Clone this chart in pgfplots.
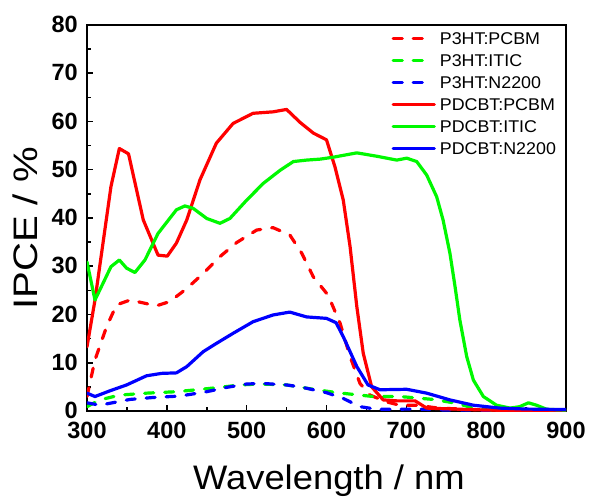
\documentclass[border=0pt]{standalone}
\usepackage{pgfplots}
\pgfplotsset{compat=1.18}
\usepackage{fontspec}
\setmainfont{Liberation Sans}
\newfontfamily\ylabfont[FakeStretch=1.18]{Liberation Sans}
\newfontfamily\xlabfont[FakeStretch=1.07]{Liberation Sans}
\newfontfamily\legfont[FakeStretch=1.05]{Liberation Sans}
\definecolor{cR}{RGB}{255,0,0}
\definecolor{cG}{RGB}{0,248,0}
\definecolor{cB}{RGB}{0,0,255}
\pgfplotsset{
  dashleg/.style={dash pattern=on 9pt off 11pt, legend image code/.code={\draw[##1] (0pt,0pt) -- (31pt,0pt);}},
  solidleg/.style={legend image code/.code={\draw[##1] (0pt,0pt) -- (41pt,0pt);}},
}
\begin{document}
\begin{tikzpicture}
\begin{axis}[
  name=ax,
  scale only axis, width=479pt, height=386pt,
  xmin=300, xmax=900, ymin=0, ymax=80,
  xtick={300,400,...,900}, ytick={0,10,...,80},
  minor x tick num=1, minor y tick num=1,
  tick pos=left, tick align=inside,
  major tick length=6pt, minor tick length=4pt,
  axis line style={line width=1.8pt},
  every tick/.style={black, line width=1.5pt},
  ticklabel style={font=\bfseries\fontsize{23.5}{23.5}\selectfont},
  /pgf/number format/assume math mode=true,
  xticklabel style={anchor=base, inner sep=0pt, yshift=-27.5pt},
  yticklabel style={anchor=east, inner sep=0pt, xshift=-9pt, yshift=0.5pt},
  xlabel={Wavelength / nm}, ylabel={IPCE / \%},
  xlabel style={font=\xlabfont\fontsize{34}{34}\selectfont, at={(rel axis cs:0.505,-0.2029)}, anchor=base, inner sep=0pt},
  ylabel style={font=\ylabfont\fontsize{34}{34}\selectfont, at={(rel axis cs:-0.1038,0.473)}, anchor=base, inner sep=0pt},
  legend style={draw=none, fill=none, at={(rel axis cs:0.636,0.9813)}, anchor=north west,
    inner sep=0pt, outer sep=0pt, font=\legfont\fontsize{17}{17}\selectfont,
    row sep=9.8pt, column sep=4pt,
    nodes={inner sep=0pt, text height=12.2pt, text depth=0pt}},
  legend cell align=left,
  every axis plot/.append style={line width=3.2pt, line join=round, line cap=round},
]
\addplot[cR, dashleg] coordinates {
(300,3.0)(310,10.6)(324.6,17.5)(337,22.0)(354,23.0)(370.5,22.4)(387,21.8)(404,22.7)
(425,25.4)(445.6,28.5)(466.6,32.0)(487.4,34.9)(512.5,37.5)(533,38.0)(554,36.5)
(569,32.7)(583.5,27.8)(602,24.0)(617,18.2)(629.5,11.3)(642,5.7)(654.5,3.3)(675,1.9)
(692,1.2)(713,1.2)(740,0.6)(800,0.2)(900,0.1)};
\addlegendentry{P3HT:PCBM}
\addplot[cG, dashleg] coordinates {
(300,0.9)(316,2.3)(341,3.3)(374.6,3.7)(412,4.0)(437,4.4)(466.6,4.9)(491.6,5.4)
(516.7,5.6)(550,5.4)(583.5,4.5)(613,3.8)(658.6,3.0)(692,3.0)(733.6,2.4)(763,1.6)
(784,0.6)(800,0.2)(900,0.1)};
\addlegendentry{P3HT:ITIC}
\addplot[cB, dashleg] coordinates {
(300,1.7)(316,1.2)(354,2.4)(383,2.8)(416.5,3.1)(450,4.0)(475,4.9)(500,5.6)(521,5.7)
(550,5.4)(567,5.0)(583.5,4.4)(600,3.8)(621,2.6)(642,0.9)(663,0.35)(713,0.4)(750,0.2)(900,0.1)};
\addlegendentry{P3HT:N2200}
\addplot[cR, solidleg] coordinates {
(300,13.3)(310,23.0)(330,46.5)(340.5,54.4)(352,53.3)(370.5,39.6)(389,32.3)(400.6,32.1)
(412,34.8)(425,39.6)(441.5,47.9)(462,55.5)(483,59.6)(508,61.7)(533,62.0)(550,62.5)
(567,59.8)(583.5,57.6)(600,56.2)(610.6,50.6)(621,43.7)(629.5,34.1)(638,21.6)(646,12.0)
(656.6,5.0)(671,2.3)(688,2.1)(711,2.1)(725.5,0.6)(760,0.4)(800,0.2)(850,0.1)(900,0.1)};
\addlegendentry{PDCBT:PCBM}
\addplot[cG, solidleg] coordinates {
(300,30.9)(310,23.0)(330,29.9)(340.5,31.3)(349.6,29.6)(360,28.7)(372.6,31.3)(389,36.8)
(412,41.7)(422.6,42.5)(433,42.0)(450,39.9)(466.6,38.9)(479,39.9)(500,43.7)(521,47.2)
(542,49.9)(558.5,51.7)(575,52.0)(592,52.2)(608.5,52.6)(638,53.5)(663,52.8)(688,52.0)
(700.5,52.4)(713,51.7)(725.5,48.9)(738,44.4)(746,39.6)(754.6,32.7)(761,25.8)(767,18.9)
(775.6,11.3)(784,6.4)(796.5,3.0)(813,1.2)(830,0.6)(842,0.9)(853,1.7)(863,1.2)(876,0.35)(900,0.2)};
\addlegendentry{PDCBT:ITIC}
\addplot[cB, solidleg] coordinates {
(300,3.7)(310,3.0)(329,4.2)(349.6,5.4)(374.6,7.3)(393.6,7.8)(412,7.9)(425,9.2)
(445.6,12.3)(462,14.0)(483,16.1)(508,18.5)(533,19.9)(554,20.5)(575,19.5)(600,19.2)
(612,18.3)(621,15.4)(638,9.2)(652,5.4)(667,4.4)(700.5,4.5)(725.5,3.7)(754.6,2.3)
(784,1.2)(817,0.6)(850,0.4)(900,0.3)};
\addlegendentry{PDCBT:N2200}
\end{axis}
\pgfresetboundingbox
\path[use as bounding box] ([shift={(-87pt,-86pt)}]ax.south west) rectangle ([shift={(24pt,25pt)}]ax.north east);
\end{tikzpicture}
\end{document}
